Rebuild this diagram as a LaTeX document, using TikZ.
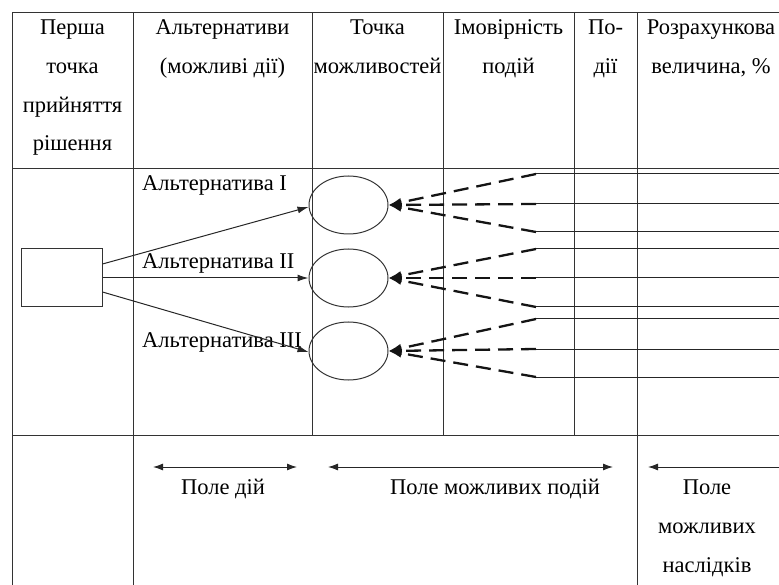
\documentclass[tikz,border=0pt]{standalone}
\usepackage{fontspec}
\setmainfont{Liberation Serif}
\usetikzlibrary{arrows.meta,shapes.geometric}
\begin{document}
\begin{tikzpicture}[x=1pt,y=-1pt,
  grid/.style={draw=black!80, line width=1pt},
  hdr/.style={align=center, anchor=base, inner sep=0pt, font=\fontsize{22.5}{38.8}\selectfont},
  lbl/.style={anchor=base west, inner sep=0pt, font=\fontsize{22.5}{27}\selectfont},
  decbox/.style={draw=black!80, line width=1pt, minimum width=81pt, minimum height=58pt, inner sep=0pt},
  chance/.style={ellipse, draw=black!80, line width=1pt, minimum width=79pt, minimum height=58pt, inner sep=0pt},
  alt/.style={draw=black!85, line width=1pt, -{Latex[length=11pt,width=7pt]}},
  event/.style={draw=black!92, line width=2.3pt, dash pattern=on 15pt off 8pt, -{Latex[length=13pt,width=9pt]}},
  outcome/.style={draw=black!85, line width=1pt},
  span/.style={draw=black!85, line width=1pt, {Latex[length=10pt,width=7pt]}-{Latex[length=10pt,width=7pt]}},
  spanl/.style={draw=black!85, line width=1pt, {Latex[length=10pt,width=7pt]}-}]
\useasboundingbox (0,0) rectangle (779,585);
\begin{scope}
\clip (0,0) rectangle (779,585);
% table frame
\draw[grid] (12,12.5) -- (779,12.5);
\draw[grid] (12,169) -- (779,169);
\draw[grid] (12,435) -- (779,435);
\draw[grid] (12,12.5) -- (12,585);
\draw[grid] (133,12.5) -- (133,585);
\draw[grid] (312,12.5) -- (312,435);
\draw[grid] (443,12.5) -- (443,435);
\draw[grid] (574,12.5) -- (574,435);
\draw[grid] (637,12.5) -- (637,585);

% column headings (anchored at the baseline of their last line)
\node[hdr] (h1) at (72.5,151) {Перша\\точка\\прийняття\\рішення};
\node[hdr] (h2) at (222.5,73.5) {Альтернативи\\(можливі дії)};
\node[hdr] (h3) at (377.5,73.5) {Точка\\можливостей};
\node[hdr] (h4) at (508.5,73.5) {Імовірність\\подій};
\node[hdr] (h5) at (605.5,73.5) {По-\\дії};
\node[hdr] (h6) at (711,73.5) {Розрахункова\\величина, \%};

% decision point and chance points
\node[decbox] (dec) at (61.5,278) {};
\node[chance] (e1) at (348.5,205) {};
\node[chance] (e2) at (348.5,278) {};
\node[chance] (e3) at (348.5,351) {};

\node[lbl] (a1) at (142,191) {Альтернатива I};
\node[lbl] (a2) at (142,269) {Альтернатива II};
\node[lbl] (a3) at (142,347) {Альтернатива III};

\draw[alt] (dec.east |- 0,264) -- (e1.west |- 0,207);
\draw[alt] (dec.east) -- (e2.west);
\draw[alt] (dec.east |- 0,292) -- (e3.west |- 0,352);

% event branches and outcome lines
\foreach \e/\ya/\yb/\yc in {e1/174/204/232, e2/249/278/307, e3/319/349/377}{
  \coordinate (\e a) at (536,\ya);
  \coordinate (\e b) at (536,\yb);
  \coordinate (\e c) at (536,\yc);
  \coordinate (\e A) at (779,\ya);
  \coordinate (\e B) at (779,\yb);
  \coordinate (\e C) at (779,\yc);
  \draw[event] (\e a) -- (\e.east);
  \draw[event] (\e b) -- (\e.east);
  \draw[event] (\e c) -- (\e.east);
  \draw[outcome] (\e a) -- (\e A);
  \draw[outcome] (\e b) -- (\e B);
  \draw[outcome] (\e c) -- (\e C);
}

% fields
\coordinate (f1l) at (153,467);
\coordinate (f1r) at (297,467);
\coordinate (f2l) at (328,467);
\coordinate (f2r) at (613,467);
\coordinate (f3l) at (648,467);
\coordinate (f3r) at (779,467);
\draw[span] (f1l) -- (f1r);
\draw[span] (f2l) -- (f2r);
\draw[spanl] (f3l) -- (f3r);
\node[hdr] (p1) at (223,494) {Поле дій};
\node[hdr] (p2) at (495,494) {Поле можливих подій};
\node[hdr] (p3) at (707,572) {Поле\\можливих\\наслідків};
\end{scope}
\end{tikzpicture}
\end{document}
